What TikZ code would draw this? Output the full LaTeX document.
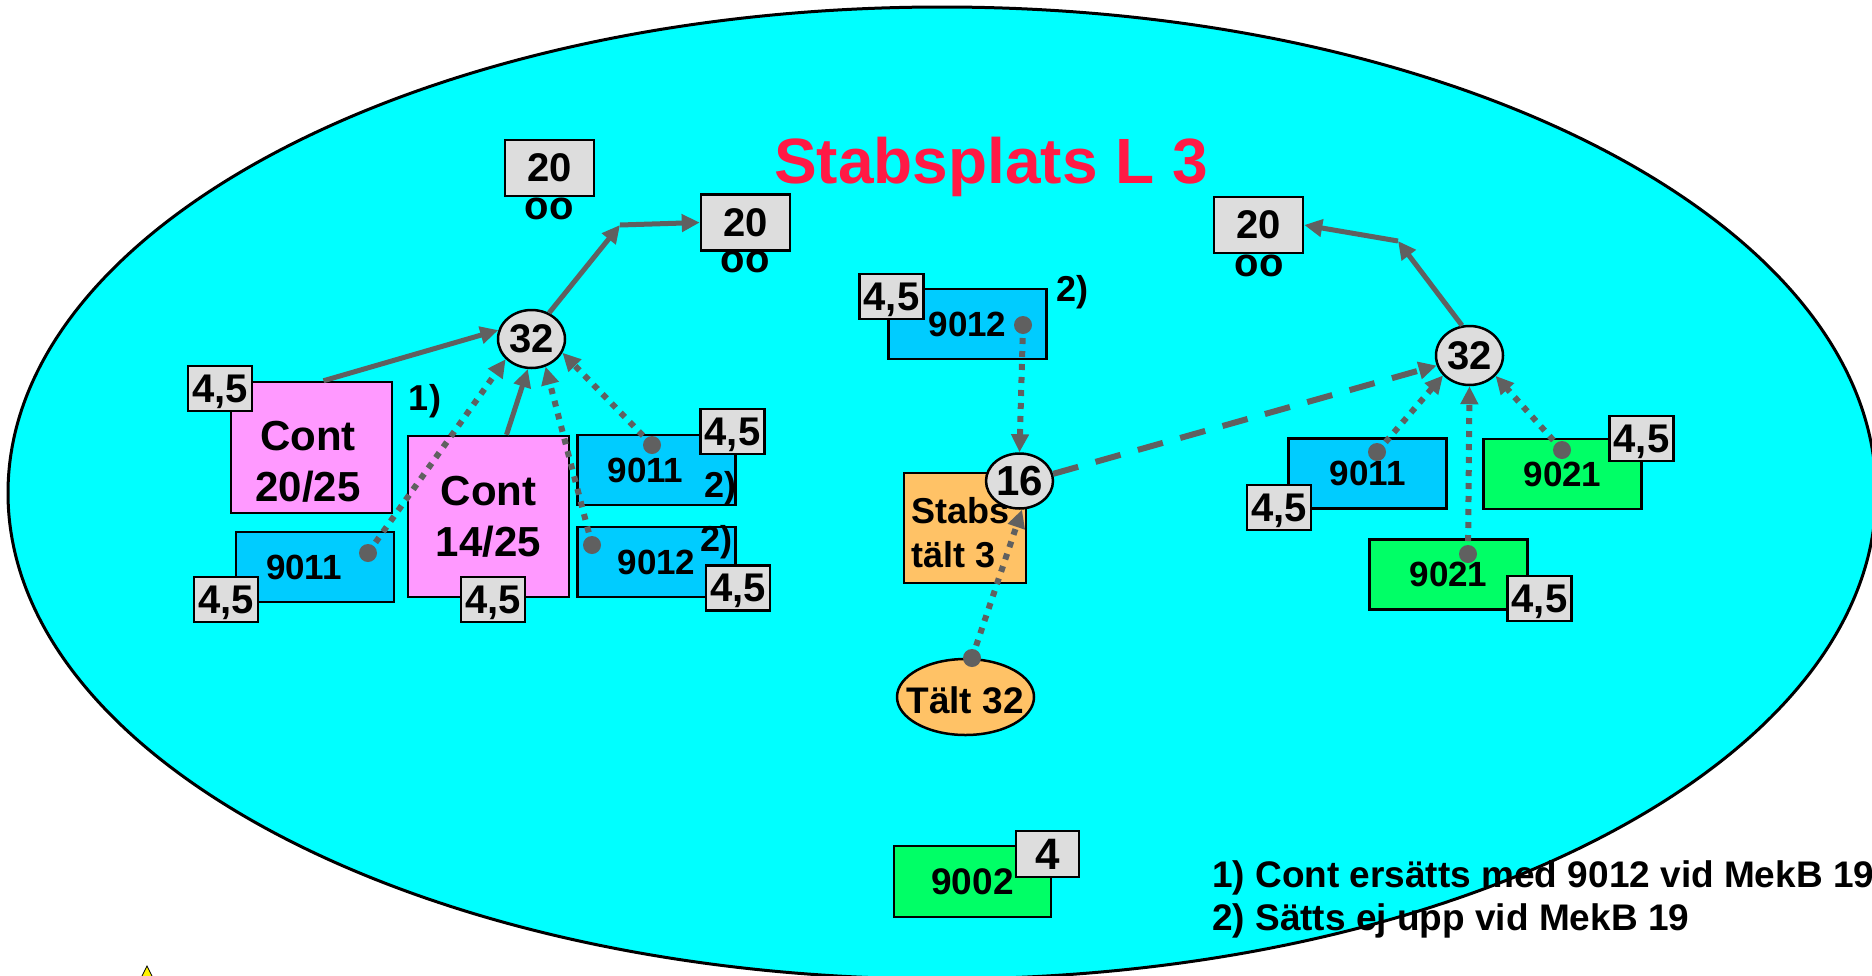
\documentclass[tikz,border=0pt]{standalone}
\usepackage{fontspec}
\setmainfont{Liberation Sans}
\usetikzlibrary{shapes.geometric,arrows.meta}
\definecolor{cy}{HTML}{00FFFF}
\definecolor{bl}{HTML}{00CCFF}
\definecolor{pk}{HTML}{FF99FF}
\definecolor{gn}{HTML}{00FF66}
\definecolor{og}{HTML}{FFC266}
\definecolor{lg}{HTML}{DDDDDD}
\definecolor{cg}{HTML}{606060}
\definecolor{tred}{HTML}{FF1A45}
\newcommand\fsz[2]{\fontsize{#1}{#2}\selectfont\bfseries}
\begin{document}
\begin{tikzpicture}[x=1pt,y=-1pt,
  box/.style={draw=black, line width=2.5pt, inner sep=0pt, minimum width=158pt, minimum height=70pt, font=\fsz{35}{42}},
  blu/.style={box, fill=bl},
  grn/.style={box, fill=gn},
  pnk/.style={box, fill=pk, minimum width=161pt, font=\fsz{42}{51}, align=center},
  lab/.style={draw=black, line width=2.5pt, inner sep=0pt, fill=lg, minimum width=64pt, minimum height=45pt, font=\fsz{40}{48}, text depth=0pt},
  twenty/.style={lab, minimum width=89pt, minimum height=56pt},
  rnd/.style={ellipse, draw=black, line width=2.5pt, fill=lg, inner sep=0pt, minimum width=67pt, minimum height=59pt, font=\fsz{40}{48}},
  txt/.style={inner sep=0pt, font=\fsz{36}{43}},
  dotn/.style={circle, fill=cg, inner sep=0pt, minimum size=18pt},
  sol/.style={draw=cg, line width=5pt, -{Triangle[length=18pt,width=17pt]}},
  dotl/.style={draw=cg, line width=6pt, dash pattern=on 6pt off 7pt, -{Triangle[length=18pt,width=17pt]}},
  dsh/.style={draw=cg, line width=6pt, dash pattern=on 26pt off 18pt, -{Triangle[length=18pt,width=17pt]}}
]
\useasboundingbox (0,0) rectangle (1872,975);
\clip (0,0) rectangle (1872,975);
\fill[white] (0,0) rectangle (1872,975);
\draw[fill=cy, line width=3pt] (942,493) ellipse [x radius=934pt, y radius=486pt];

% title
\node[inner sep=0pt, font=\fsz{64}{77}, text=tred, anchor=base] (title) at (991,183) {Stabsplats L 3};

% 20 boxes
\node[twenty] (g20a) at (549.5,168) {20};
\node[txt, font=\fsz{40}{48}] (o1) at (549,208.5) {oo};
\node[twenty] (g20b) at (745.5,222.5) {20};
\node[txt, font=\fsz{40}{48}] (o2) at (745,262) {oo};
\node[twenty] (g20c) at (1258.5,225) {20};
\node[txt, font=\fsz{40}{48}] (o3) at (1259,266) {oo};

% left group
\node[pnk, minimum height=131pt] (p1) at (311.5,447.5) {};
\node[txt, font=\fsz{42}{51}, align=center] (tp1) at (308,462) {Cont\\20/25};
\node[pnk, minimum height=161pt] (p2) at (488.5,516.5) {Cont\\14/25};
\node[blu] (b1) at (315,567) {9011\hspace*{22pt}};
\node[blu] (b2) at (656.5,470) {9011\hspace*{22pt}};
\node[blu] (b3) at (656.5,562) {9012};
\node[lab] (L1) at (220,388.5) {4,5};
\node[lab] (L2) at (226,599.5) {4,5};
\node[lab] (L3) at (493,599.5) {4,5};
\node[lab] (L4) at (732.5,431.5) {4,5};
\node[lab] (L5) at (738,588) {4,5};
\node[txt] (n1) at (425,401) {1)};
\node[txt] (n2a) at (720,488) {2)};
\node[txt] (n2b) at (716,542) {2)};
\node[rnd, minimum height=58pt] (c32a) at (531.5,339) {32};
\node[dotn] (d1) at (368,553) {};
\node[dotn] (d2) at (652,445) {};
\node[dotn] (d3) at (592,545) {};
\coordinate (j1) at (620,225);

% middle group
\node[blu] (b4) at (967.5,324) {9012};
\node[lab] (L6) at (891.5,296.5) {4,5};
\node[txt] (n2c) at (1072,292) {2)};
\node[dotn] (d4) at (1023,325) {};
\node[box, fill=og, minimum width=122pt, minimum height=110pt] (st) at (965,528) {};
\node[txt, anchor=base west] (st1) at (911,523) {Stabs};
\node[txt, anchor=base west] (st2) at (911,567) {tält 3};
\node[rnd, minimum height=55pt, font=\fsz{42}{50}] (c16) at (1019.5,481) {16};
\node[ellipse, draw=black, line width=2.5pt, fill=og, inner sep=0pt, minimum width=137pt, minimum height=76pt] (talt) at (965.5,697) {};
\node[inner sep=0pt, font=\fsz{37}{44}] (talttxt) at (965,700) {Tält 32};
\node[dotn] (d5) at (972,658) {};

% right group
\node[blu] (b5) at (1367.5,473.5) {9011};
\node[grn] (gr1) at (1562.5,474) {9021};
\node[grn] (gr2) at (1448.5,574.5) {9021};
\node[lab] (L7) at (1279,507.5) {4,5};
\node[lab] (L8) at (1641.5,438.5) {4,5};
\node[lab] (L9) at (1539.5,598.5) {4,5};
\node[rnd] (c32b) at (1469.5,355.5) {32};
\node[dotn] (d6) at (1377,452) {};
\node[dotn] (d7) at (1562,450) {};
\node[dotn] (d8) at (1468,554) {};
\coordinate (j2) at (1398,241);

% bottom
\node[grn, minimum width=157pt, minimum height=71pt, font=\fsz{37}{44}] (gr3) at (972.5,881.5) {9002};
\node[lab, minimum width=63pt, minimum height=46pt, font=\fsz{44}{52}] (L10) at (1047.5,854) {4};

% connectors left
\draw[sol] ([xshift=12pt]p1.north) -- (c32a.165);
\draw[sol] ([xshift=18pt]p2.north) -- (c32a.263);
\draw[dotl] (d1.center) -- (c32a.218);
\draw[dotl] (d3.center) -- (c32a.297);
\draw[dotl] (d2.center) -- (c32a.336);
\draw[sol] (c32a.56) -- (j1);
\draw[sol] (j1) -- (g20b.west);
% connectors middle
\draw[dotl] (d4.center) -- (c16.north);
\draw[dotl] (d5.center) -- (c16.275);
\draw[dsh] (c16.12) -- (c32b.197);
% connectors right
\draw[sol] (c32b.104) -- (j2);
\draw[sol] (j2) -- (g20c.east);
\draw[dotl] (d6.center) -- (c32b.217);
\draw[dotl] (d8.center) -- (c32b.south);
\draw[dotl] (d7.center) -- (c32b.322);

% footnotes
\node[inner sep=0pt, font=\fsz{37}{44}, anchor=base west] (f1) at (1212,887) {1) Cont ersätts med 9012 vid MekB 19};
\node[inner sep=0pt, font=\fsz{37}{44}, anchor=base west] (f2) at (1212,930) {2) Sätts ej upp vid MekB 19};

% small warning sign
\filldraw[fill=yellow, draw=black, line width=0.8pt] (141,978) -- (147,966) -- (153,978) -- cycle;
\end{tikzpicture}
\end{document}
